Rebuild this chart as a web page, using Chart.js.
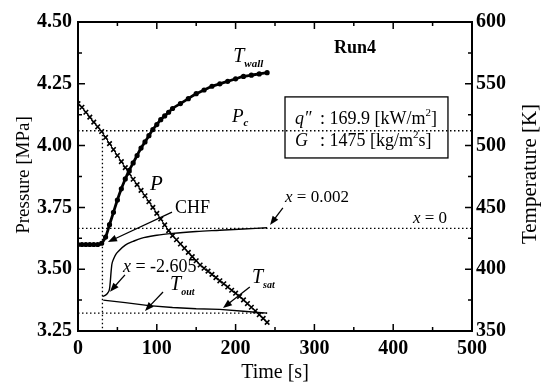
<!DOCTYPE html>
<html>
<head>
<meta charset="UTF-8">
<title>Run4</title>
<script src="https://cdn.jsdelivr.net/npm/chart.js@4.4.0/dist/chart.umd.min.js"></script>
<style>
  body { margin: 0; background: #fff; }
</style>
</head>
<body>
<canvas id="run4Chart" width="548" height="385"></canvas>
<script>
// pressure P [MPa] (crosses)
const timeP = [0, 5, 10, 15, 20, 25, 30, 35, 40, 45, 50, 55, 60, 65, 70, 75, 80, 85, 90, 95, 100,
  105, 110, 115, 120, 125, 130, 135, 140, 145, 150, 155, 160, 165, 170, 175, 180, 185, 190, 195,
  200, 205, 210, 215, 220, 225, 230, 235, 240];
const pressure = [4.17, 4.155, 4.135, 4.115, 4.095, 4.076, 4.057, 4.033, 4.008, 3.984, 3.960, 3.935,
  3.911, 3.886, 3.864, 3.842, 3.819, 3.797, 3.773, 3.750, 3.726, 3.703, 3.679, 3.656, 3.636, 3.619,
  3.602, 3.585, 3.568, 3.551, 3.534, 3.517, 3.504, 3.492, 3.479, 3.466, 3.453, 3.441, 3.428, 3.415,
  3.403, 3.390, 3.376, 3.361, 3.346, 3.331, 3.316, 3.301, 3.285];

// wall temperature [K]
const timeWall = [0, 5, 10, 15, 20, 25, 30, 35, 40, 45, 50, 55, 60, 65, 70, 75, 80, 85, 90, 95, 100,
  105, 110, 115, 120, 130, 140, 150, 160, 170, 180, 190, 200, 210, 220, 230, 240];
const tempWall = [420, 420, 420, 420, 420, 420, 421, 426, 436, 446, 456, 465, 473, 480, 486, 492, 498,
  503, 508, 513, 517, 521, 524, 527, 530, 534, 538, 542, 545, 548, 550, 552, 554, 556, 557, 558, 559];

// thin curve from x = -2.605 to x = 0.002 [K]
const timeChf = [31, 35, 38, 40, 41, 42, 43, 45, 48, 52, 60, 70, 80, 100, 120, 150, 180, 210, 240];
const tempChf = [378, 379, 381, 384, 390, 398, 404, 408, 412, 415, 419.5, 422.5, 425, 427.5, 429,
  430.5, 431.5, 432.5, 433.5];

// outlet temperature [K]
const timeOut = [32, 60, 90, 120, 150, 180, 210, 240];
const tempOut = [375, 373, 370.5, 369, 368, 367.5, 366, 364.5];

// reference levels
const pCritical = 4.06;
const tempSat = 364.5;
const tempXZero = 433;
const timeChfOnset = 31;

const xTicks = [0, 100, 200, 300, 400, 500];
const pTicks = [3.25, 3.50, 3.75, 4.00, 4.25, 4.50];
const tTicks = [350, 400, 450, 500, 550, 600];

const serif = '"Liberation Serif", "DejaVu Serif", serif';
const pairs = (xs, ys) => xs.map((v, i) => ({ x: v, y: ys[i] }));
const dotted = { borderColor: '#000', borderWidth: 1.3, borderDash: [1.5, 2.5], pointRadius: 0, showLine: true, fill: false };

function arrow(ctx, x1, y1, x2, y2) {
  const a = Math.atan2(y2 - y1, x2 - x1);
  ctx.beginPath();
  ctx.moveTo(x1, y1);
  ctx.lineTo(x2 - 6 * Math.cos(a), y2 - 6 * Math.sin(a));
  ctx.lineWidth = 1.3;
  ctx.stroke();
  ctx.beginPath();
  ctx.moveTo(x2, y2);
  ctx.lineTo(x2 - 9 * Math.cos(a) + 3.5 * Math.sin(a), y2 - 9 * Math.sin(a) - 3.5 * Math.cos(a));
  ctx.lineTo(x2 - 9 * Math.cos(a) - 3.5 * Math.sin(a), y2 - 9 * Math.sin(a) + 3.5 * Math.cos(a));
  ctx.closePath();
  ctx.fill();
}

// text pieces: [text, font, dy]
function pieces(ctx, x, y, parts) {
  parts.forEach(p => {
    ctx.font = p[1] + ' ' + serif;
    ctx.fillText(p[0], x, y + (p[2] || 0));
    x += ctx.measureText(p[0]).width;
  });
}

const notes = [
  { t: 197, v: 567.6, ax: 'y2', parts: [['T', 'italic 20px'], ['wall', 'italic bold 11px', 5]] },
  { t: 195.4, v: 4.095, ax: 'y', parts: [['P', 'italic 19px'], ['c', 'italic bold 11px', 4]] },
  { t: 91.4, v: 3.820, ax: 'y', parts: [['P', 'italic 21px']] },
  { t: 123, v: 3.727, ax: 'y', parts: [['CHF', '18px']] },
  { t: 262.7, v: 3.772, ax: 'y', parts: [['x', 'italic 17px'], [' = 0.002', '17px']] },
  { t: 425, v: 3.687, ax: 'y', parts: [['x', 'italic 17px'], [' = 0', '17px']] },
  { t: 57, v: 3.489, ax: 'y', parts: [['x', 'italic 18px'], [' = -2.605', '18px']] },
  { t: 116.8, v: 3.416, ax: 'y', parts: [['T', 'italic 20px'], ['out', 'italic bold 10px', 5]] },
  { t: 220.8, v: 3.444, ax: 'y', parts: [['T', 'italic 20px'], ['sat', 'italic bold 10px', 5]] }
];

// arrows: from (t1,p1) to (t2,p2) on pressure axis
const arrows = [
  [119.3, 3.731, 38, 3.61],
  [260, 3.748, 243.7, 3.679],
  [59.6, 3.477, 40.6, 3.409],
  [107.9, 3.408, 85, 3.331],
  [218, 3.428, 184, 3.343]
];

const decorPlugin = {
  id: 'decor',
  afterDraw(chart) {
    const { ctx, chartArea: a, scales: { x, y, y2 } } = chart;
    ctx.save();
    ctx.strokeStyle = '#000';
    ctx.fillStyle = '#000';

    // frame
    ctx.lineWidth = 2;
    ctx.strokeRect(a.left, a.top, a.right - a.left, a.bottom - a.top);

    // inward ticks
    ctx.lineWidth = 1.5;
    ctx.beginPath();
    for (let v = 0; v <= 500; v += 50) {
      const px = x.getPixelForValue(v);
      const len = v % 100 === 0 ? 7 : 4;
      ctx.moveTo(px, a.bottom); ctx.lineTo(px, a.bottom - len);
      ctx.moveTo(px, a.top); ctx.lineTo(px, a.top + len);
    }
    for (let v = 3.25; v <= 4.5001; v += 0.125) {
      const py = y.getPixelForValue(v);
      const len = Math.abs(v * 4 - Math.round(v * 4)) < 0.01 ? 7 : 4;
      ctx.moveTo(a.left, py); ctx.lineTo(a.left + len, py);
    }
    for (let v = 350; v <= 600; v += 25) {
      const py = y2.getPixelForValue(v);
      const len = v % 50 === 0 ? 7 : 4;
      ctx.moveTo(a.right, py); ctx.lineTo(a.right - len, py);
    }
    ctx.stroke();

    // parameter box
    const bx1 = x.getPixelForValue(262.7), bx2 = x.getPixelForValue(469.5);
    const by1 = y.getPixelForValue(4.197), by2 = y.getPixelForValue(3.950);
    ctx.lineWidth = 1.3;
    ctx.strokeRect(bx1, by1, bx2 - bx1, by2 - by1);
    ctx.textBaseline = 'alphabetic';
    const colonX = x.getPixelForValue(307);
    const qX = x.getPixelForValue(275.4);
    const l1 = y.getPixelForValue(4.087), l2 = y.getPixelForValue(3.998);
    pieces(ctx, qX, l1, [['q″', 'italic 18px']]);
    pieces(ctx, colonX, l1, [[': 169.9 [kW/m', '18px'], ['2', '11px', -8], [']', '18px']]);
    pieces(ctx, qX, l2, [['G', 'italic 18px']]);
    pieces(ctx, colonX, l2, [[': 1475 [kg/m', '18px'], ['2', '11px', -8], ['s]', '18px']]);

    // run label
    ctx.font = 'bold 18px ' + serif;
    ctx.textAlign = 'center';
    ctx.fillText('Run4', x.getPixelForValue(351.5), y2.getPixelForValue(575));
    ctx.textAlign = 'left';

    notes.forEach(n => {
      const sc = n.ax === 'y2' ? y2 : y;
      pieces(ctx, x.getPixelForValue(n.t), sc.getPixelForValue(n.v), n.parts);
    });
    arrows.forEach(r => arrow(ctx, x.getPixelForValue(r[0]), y.getPixelForValue(r[1]),
      x.getPixelForValue(r[2]), y.getPixelForValue(r[3])));

    // axis titles, both read bottom to top
    ctx.textAlign = 'center';
    ctx.textBaseline = 'middle';
    ctx.save();
    ctx.font = '19px ' + serif;
    ctx.translate(24, 175);
    ctx.rotate(-Math.PI / 2);
    ctx.fillText('Pressure [MPa]', 0, 0);
    ctx.restore();
    ctx.save();
    ctx.font = '21px ' + serif;
    ctx.translate(530, 174);
    ctx.rotate(-Math.PI / 2);
    ctx.fillText('Temperature [K]', 0, 0);
    ctx.restore();
    ctx.restore();
  }
};

const tickFont = { family: serif, size: 20, weight: 'bold' };

new Chart(document.getElementById('run4Chart'), {
  type: 'scatter',
  data: {
    datasets: [
      Object.assign({ data: [{ x: 0, y: pCritical }, { x: 500, y: pCritical }], yAxisID: 'y' }, dotted),
      Object.assign({ data: [{ x: 0, y: tempXZero }, { x: 500, y: tempXZero }], yAxisID: 'y2' }, dotted),
      Object.assign({ data: [{ x: 0, y: tempSat }, { x: 240, y: tempSat }], yAxisID: 'y2' }, dotted),
      Object.assign({ data: [{ x: timeChfOnset, y: pCritical }, { x: timeChfOnset, y: 3.25 }], yAxisID: 'y' }, dotted),
      {
        label: 'P', data: pairs(timeP, pressure), yAxisID: 'y', showLine: true,
        borderColor: '#000', borderWidth: 1, pointStyle: 'crossRot', pointRadius: 3.2,
        pointBorderWidth: 1.6, pointBorderColor: '#000'
      },
      {
        label: 'Twall', data: pairs(timeWall, tempWall), yAxisID: 'y2', showLine: true,
        borderColor: '#000', borderWidth: 2.8, pointRadius: 1.2, pointBackgroundColor: '#000',
        pointBorderColor: '#000', cubicInterpolationMode: 'monotone'
      },
      {
        label: 'CHF', data: pairs(timeChf, tempChf), yAxisID: 'y2', showLine: true,
        borderColor: '#000', borderWidth: 1.4, pointRadius: 0, cubicInterpolationMode: 'monotone'
      },
      {
        label: 'Tout', data: pairs(timeOut, tempOut), yAxisID: 'y2', showLine: true,
        borderColor: '#000', borderWidth: 1.4, pointRadius: 0
      }
    ]
  },
  options: {
    responsive: false,
    animation: false,
    layout: { padding: { top: 22 } },
    plugins: { legend: { display: false }, tooltip: { enabled: false } },
    scales: {
      x: {
        type: 'linear', min: 0, max: 500,
        afterBuildTicks: s => { s.ticks = xTicks.map(v => ({ value: v })); },
        afterFit: s => { s.height = 54; },
        grid: { display: false, drawTicks: false }, border: { display: false },
        ticks: { font: tickFont, color: '#000', padding: 6, maxRotation: 0 },
        title: { display: true, text: 'Time [s]', font: { family: serif, size: 20 }, color: '#000', padding: { top: 0, bottom: 0 } }
      },
      y: {
        position: 'left', min: 3.25, max: 4.5,
        afterBuildTicks: s => { s.ticks = pTicks.map(v => ({ value: v })); },
        afterFit: s => { s.width = 78; },
        grid: { display: false, drawTicks: false }, border: { display: false },
        ticks: { font: tickFont, color: '#000', padding: 6, callback: v => v.toFixed(2) }
      },
      y2: {
        position: 'right', min: 350, max: 600,
        afterBuildTicks: s => { s.ticks = tTicks.map(v => ({ value: v })); },
        afterFit: s => { s.width = 76; },
        grid: { display: false, drawTicks: false }, border: { display: false },
        ticks: { font: tickFont, color: '#000', padding: 4 }
      }
    }
  },
  plugins: [decorPlugin]
});
</script>
</body>
</html>
